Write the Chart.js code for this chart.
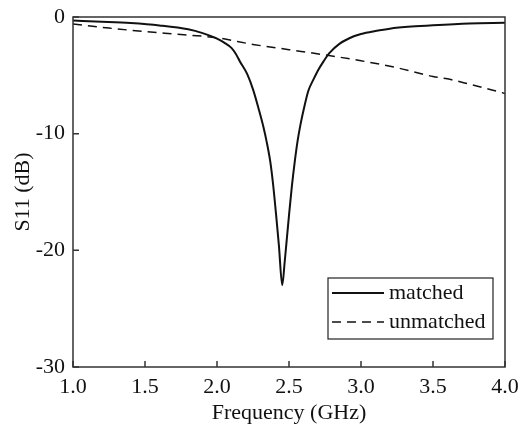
<!DOCTYPE html>
<html>
<head>
<meta charset="utf-8">
<script src="https://cdn.jsdelivr.net/npm/chart.js@4"></script>
<style>
  html, body { margin: 0; padding: 0; background: #fff; }
  #wrap { width: 521px; height: 426px; }
</style>
</head>
<body>
<div id="wrap"><canvas id="chart"></canvas></div>
<script>
// S11 of the matched antenna (GHz, dB)
const matchedFreq = [1.0, 1.2, 1.4, 1.6, 1.8, 1.9, 2.0, 2.05, 2.1, 2.13, 2.16, 2.21, 2.25, 2.29, 2.32, 2.345, 2.37, 2.39, 2.41, 2.43, 2.453,
  2.47, 2.485, 2.5, 2.52, 2.54, 2.56, 2.58, 2.61, 2.635, 2.67, 2.7, 2.74, 2.78, 2.85, 2.95, 3.0, 3.1, 3.2, 3.35, 3.5, 3.75, 4.0];
const matchedS11 = [-0.3, -0.4, -0.52, -0.72, -1.05, -1.38, -1.85, -2.2, -2.65, -3.15, -3.83, -4.9, -6.2, -7.9, -9.3, -10.7, -12.4, -14.4, -16.9, -19.6, -23.0,
  -21.0, -19.0, -17.0, -14.5, -12.4, -10.6, -9.2, -7.5, -6.3, -5.35, -4.6, -3.8, -3.1, -2.3, -1.65, -1.45, -1.2, -1.0, -0.82, -0.7, -0.55, -0.5];
// S11 without the matching network
const unmatchedFreq = [1.0, 1.25, 1.5, 1.75, 2.0, 2.25, 2.5, 2.75, 3.0, 3.25, 3.5, 3.6, 3.75, 4.0];
const unmatchedS11 = [-0.6, -0.95, -1.25, -1.5, -1.78, -2.35, -2.8, -3.25, -3.75, -4.35, -5.1, -5.3, -5.75, -6.55];
const seriesNames = ['matched', 'unmatched'];
const xTicks = [1.0, 1.5, 2.0, 2.5, 3.0, 3.5, 4.0];
const yTicks = [0, -10, -20, -30];

const serif = "'Liberation Serif', 'DejaVu Serif', serif";

const toXY = (xs, ys) => xs.map((x, i) => ({x: x, y: ys[i]}));

// frame, inward ticks and the boxed legend
const framePlugin = {
  id: 'frame',
  afterDraw(chart) {
    const ctx = chart.ctx;
    const a = chart.chartArea;
    const xs = chart.scales.x, ys = chart.scales.y;
    ctx.save();
    ctx.strokeStyle = '#333';
    ctx.lineWidth = 1.5;
    ctx.strokeRect(a.left, a.top, a.right - a.left, a.bottom - a.top);
    ctx.beginPath();
    for (const v of xTicks) {
      const px = xs.getPixelForValue(v);
      ctx.moveTo(px, a.bottom);
      ctx.lineTo(px, a.bottom - 6);
    }
    for (const v of yTicks) {
      const py = ys.getPixelForValue(v);
      ctx.moveTo(a.left, py);
      ctx.lineTo(a.left + 6, py);
    }
    ctx.stroke();

    // legend box
    const bx = 328, by = 278, bw = 165, bh = 61;
    ctx.lineWidth = 1.2;
    ctx.strokeStyle = '#222';
    ctx.fillStyle = '#fff';
    ctx.fillRect(bx, by, bw, bh);
    ctx.strokeRect(bx, by, bw, bh);
    chart.data.datasets.forEach((ds, i) => {
      const ly = by + 15 + i * 29;
      ctx.beginPath();
      ctx.strokeStyle = ds.borderColor;
      ctx.lineWidth = ds.borderWidth;
      ctx.setLineDash(ds.borderDash || []);
      ctx.moveTo(bx + 4, ly);
      ctx.lineTo(bx + 56, ly);
      ctx.stroke();
      ctx.setLineDash([]);
      ctx.fillStyle = '#111';
      ctx.font = '22px ' + serif;
      ctx.textBaseline = 'middle';
      ctx.fillText(ds.label, bx + 61, ly);
    });
    ctx.restore();
  }
};

new Chart(document.getElementById('chart'), {
  type: 'line',
  data: {
    datasets: [{
      label: seriesNames[0],
      data: toXY(matchedFreq, matchedS11),
      borderColor: '#111',
      borderWidth: 2,
      pointRadius: 0,
      cubicInterpolationMode: 'monotone'
    }, {
      label: seriesNames[1],
      data: toXY(unmatchedFreq, unmatchedS11),
      borderColor: '#111',
      borderWidth: 1.5,
      borderDash: [9, 6],
      pointRadius: 0,
      cubicInterpolationMode: 'monotone'
    }]
  },
  options: {
    responsive: true,
    maintainAspectRatio: false,
    animation: false,
    layout: {padding: {top: 17, right: 16, left: 0, bottom: 0}},
    plugins: {legend: {display: false}, tooltip: {enabled: false}},
    scales: {
      x: {
        type: 'linear',
        min: 1, max: 4,
        afterFit: s => { s.height = 59; s.paddingLeft = 0; s.paddingRight = 0; },
        afterBuildTicks: s => { s.ticks = xTicks.map(v => ({value: v})); },
        grid: {display: false, drawTicks: false},
        border: {display: false},
        ticks: {
          padding: 7,
          color: '#111',
          font: {family: serif, size: 22},
          callback: v => v.toFixed(1)
        },
        title: {
          display: true,
          text: 'Frequency (GHz)',
          color: '#111',
          font: {family: serif, size: 22},
          padding: {top: 0, bottom: 0}
        }
      },
      y: {
        type: 'linear',
        min: -30, max: 0,
        afterFit: s => { s.width = 73; s.paddingTop = 0; s.paddingBottom = 0; },
        afterBuildTicks: s => { s.ticks = yTicks.map(v => ({value: v})); },
        grid: {display: false, drawTicks: false},
        border: {display: false},
        ticks: {
          padding: 8,
          color: '#111',
          font: {family: serif, size: 22}
        },
        title: {
          display: true,
          text: 'S11 (dB)',
          color: '#111',
          font: {family: serif, size: 22},
          padding: {top: 10, bottom: 0}
        }
      }
    }
  },
  plugins: [framePlugin]
});
</script>
</body>
</html>
